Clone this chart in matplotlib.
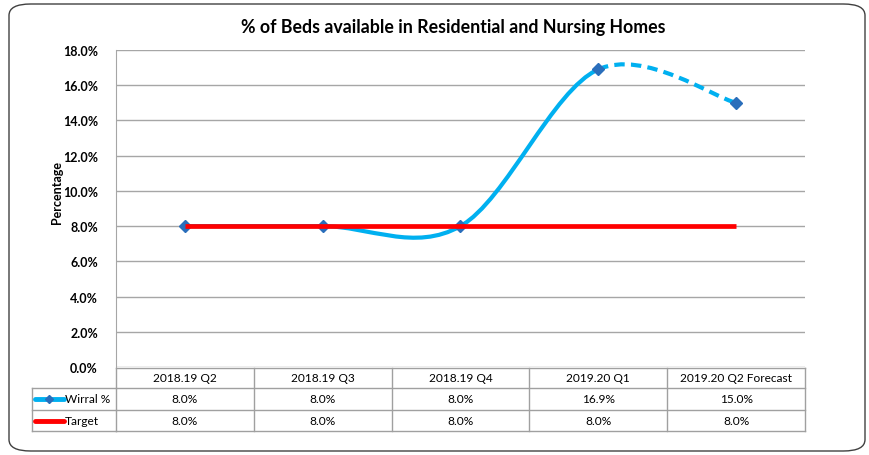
import numpy as np
import matplotlib.pyplot as plt
from matplotlib.path import Path
from matplotlib.patches import PathPatch, FancyBboxPatch
from matplotlib.lines import Line2D
import matplotlib.transforms as mtransforms

plt.rcParams['font.family'] = ['Lato', 'DejaVu Sans']

# Data
quarters = ['2018.19 Q2', '2018.19 Q3', '2018.19 Q4', '2019.20 Q1', '2019.20 Q2 Forecast']
wirral = [8.0, 8.0, 8.0, 16.9, 15.0]
target = [8.0, 8.0, 8.0, 8.0, 8.0]
wirral_labels = ['8.0%', '8.0%', '8.0%', '16.9%', '15.0%']
target_labels = ['8.0%', '8.0%', '8.0%', '8.0%', '8.0%']
n_forecast = 1  # last segment is dashed

W, H = 870, 456
fig = plt.figure(figsize=(W / 100, H / 100), dpi=100)

def fx(px):
    return px / W

def fy(py):
    return 1 - py / H

# rounded outer frame
frame = FancyBboxPatch((fx(9), fy(452)), fx(856), fy(5) - fy(452),
                       boxstyle="round,pad=0,rounding_size=0.025",
                       transform=fig.transFigure, fill=False,
                       edgecolor='#404040', linewidth=1.0)
fig.patches.append(frame)

ax = fig.add_axes([fx(116), fy(368), fx(805) - fx(116), fy(51) - fy(368)])
x = np.arange(len(quarters))
ax.set_xlim(-0.5, len(quarters) - 0.5)
ax.set_ylim(0, 18)
ax.set_yticks(np.arange(0, 18.1, 2))
ax.set_yticklabels([f'{v:.1f}%' for v in np.arange(0, 18.1, 2)],
                   fontsize=9, fontweight='bold')
ax.tick_params(axis='y', length=0, pad=13)
ax.set_xticks([])
ax.grid(axis='y', color='#a6a6a6', linewidth=1.0)
ax.set_axisbelow(True)
for s in ['top', 'right', 'bottom']:
    ax.spines[s].set_visible(False)
ax.spines['left'].set_color('#a6a6a6')
ax.set_ylabel('Percentage', fontsize=9, fontweight='bold')
ax.yaxis.set_label_coords(-0.077, 0.555)

fig.text(fx(453), fy(27), '% of Beds available in Residential and Nursing Homes',
         ha='center', va='center', fontsize=12.8, fontweight='bold')

# smoothed Wirral line (Excel-style bezier smoothing)
pts = np.column_stack([x, wirral]).astype(float)
ext = np.vstack([pts[0], pts, pts[-1]])
blue = '#00b0f0'
for i in range(len(pts) - 1):
    p0, p1, p2, p3 = ext[i], ext[i + 1], ext[i + 2], ext[i + 3]
    c1 = p1 + (p2 - p0) / 6
    c2 = p2 - (p3 - p1) / 6
    path = Path([p1, c1, c2, p2], [Path.MOVETO, Path.CURVE4, Path.CURVE4, Path.CURVE4])
    dashed = i >= len(pts) - 1 - n_forecast
    patch = PathPatch(path, fill=False, edgecolor=blue, linewidth=3,
                      linestyle=(0, (2.5, 1.5)) if dashed else '-',
                      capstyle='butt', zorder=3)
    ax.add_patch(patch)

ax.plot(x, wirral, linestyle='none', marker='D', markersize=6.5,
        color='#2a6ebb', markeredgecolor='#2a6ebb', zorder=4)

# target line drawn on top
ax.plot(x, target, color='#ff0000', linewidth=3.4, solid_capstyle='butt', zorder=5)

# data table below the chart
bt = mtransforms.blended_transform_factory(ax.transData, fig.transFigure)
grid_c = '#a0a0a0'
row_y = [369, 389, 411, 432]
edges = np.arange(len(quarters) + 1) - 0.5
lw = 1.0
for ry in row_y:
    ax.add_line(Line2D([edges[0], edges[-1]], [fy(ry)] * 2, transform=bt,
                       color=grid_c, linewidth=lw, clip_on=False))
for e in edges:
    ax.add_line(Line2D([e, e], [fy(row_y[0]), fy(row_y[-1])], transform=bt,
                       color=grid_c, linewidth=lw, clip_on=False))
for ry in row_y[1:]:
    fig.add_artist(Line2D([fx(32), fx(116)], [fy(ry)] * 2, color=grid_c, linewidth=lw))
fig.add_artist(Line2D([fx(32), fx(32)], [fy(row_y[1]), fy(row_y[-1])], color=grid_c, linewidth=lw))

fs = 8.6
for i, q in enumerate(quarters):
    ax.text(x[i], fy((row_y[0] + row_y[1]) / 2), q, transform=bt,
            ha='center', va='center', fontsize=fs)
    ax.text(x[i], fy((row_y[1] + row_y[2]) / 2), wirral_labels[i], transform=bt,
            ha='center', va='center', fontsize=fs)
    ax.text(x[i], fy((row_y[2] + row_y[3]) / 2), target_labels[i], transform=bt,
            ha='center', va='center', fontsize=fs)

# legend keys inside the table
yw = fy((row_y[1] + row_y[2]) / 2)
yt = fy((row_y[2] + row_y[3]) / 2)
fig.add_artist(Line2D([fx(35), fx(64)], [yw, yw], color=blue, linewidth=3.5,
                      solid_capstyle='round'))
fig.add_artist(Line2D([fx(49.5)], [yw], marker='D', markersize=4.5, color='#2a6ebb',
                      linestyle='none'))
fig.add_artist(Line2D([fx(35), fx(64)], [yt, yt], color='#ff0000', linewidth=3.5,
                      solid_capstyle='round'))
fig.text(fx(65), yw, 'Wirral %', ha='left', va='center', fontsize=fs)
fig.text(fx(65), yt, 'Target', ha='left', va='center', fontsize=fs)

fig.savefig('out.png', dpi=100)
